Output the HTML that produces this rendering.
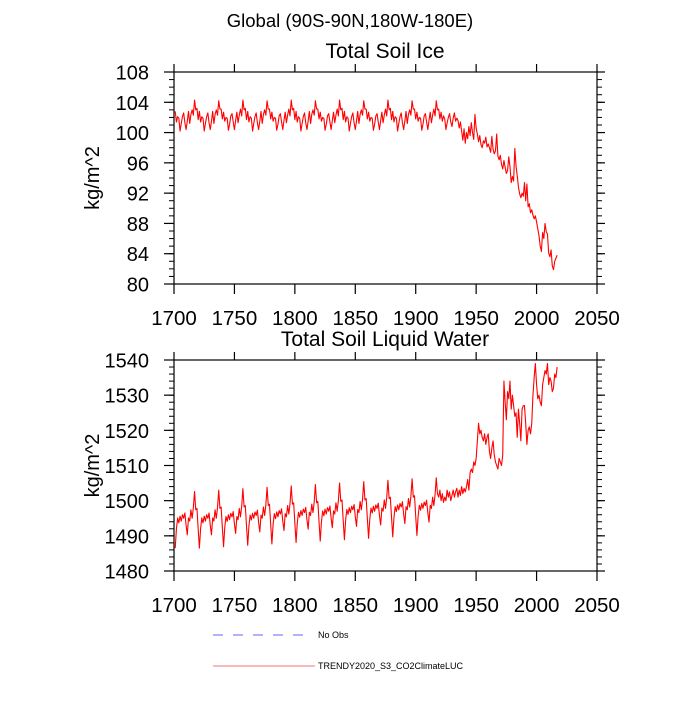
<!DOCTYPE html>
<html><head><meta charset="utf-8"><style>
body{margin:0;background:#fff}
svg text{font-family:"Liberation Sans",Arial,sans-serif}
</style></head><body>
<svg id="chart" width="700" height="700" viewBox="0 0 700 700">
<text x="350" y="27" font-size="18.5" text-anchor="middle">Global (90S-90N,180W-180E)</text>
<g id="legend">
<line x1="213" y1="635" x2="308" y2="635" stroke="#6666ff" stroke-width="1" stroke-dasharray="10,10"/>
<text x="318" y="638" font-size="9">No Obs</text>
<line x1="213" y1="666" x2="315" y2="666" stroke="#ee7777" stroke-width="1"/>
<text x="318" y="669" font-size="9">TRENDY2020_S3_CO2ClimateLUC</text>
</g>
</svg>
<script>
const years = []; for (let y = 1701; y <= 2017; y++) years.push(y);
const iceValues = [
102.8,101.4,102.1,101.9,100.2,101.2,102.1,102.6,101.3,100.4,101.5,102.8,101.2,102.4,103.0,102.3,
104.3,103.0,103.2,101.7,102.8,101.4,102.1,101.9,100.2,101.2,102.1,102.6,101.3,100.4,101.5,102.8,101.2,102.4,103.0,102.3,
104.2,103.1,103.1,101.8,102.7,101.5,102.0,101.9,100.3,101.1,102.2,102.5,101.4,100.4,101.6,102.7,101.3,102.3,103.1,102.2,
104.3,103.0,103.2,101.7,102.8,101.4,102.1,101.9,100.2,101.2,102.1,102.6,101.3,100.4,101.5,102.8,101.2,102.4,103.0,102.3,
104.2,103.1,103.1,101.8,102.7,101.5,102.0,101.9,100.3,101.1,102.2,102.5,101.4,100.4,101.6,102.7,101.3,102.3,103.1,102.2,
104.3,103.0,103.2,101.7,102.8,101.4,102.1,101.9,100.2,101.2,102.1,102.6,101.3,100.4,101.5,102.8,101.2,102.4,103.0,102.3,
104.2,103.1,103.1,101.8,102.7,101.5,102.0,101.9,100.3,101.1,102.2,102.5,101.4,100.4,101.6,102.7,101.3,102.3,103.1,102.2,
104.3,103.0,103.2,101.7,102.8,101.4,102.1,101.9,100.2,101.2,102.1,102.6,101.3,100.4,101.5,102.8,101.2,102.4,103.0,102.3,
104.2,103.1,103.1,101.8,102.7,101.5,102.0,101.9,100.3,101.1,102.2,102.5,101.4,100.4,101.6,102.7,101.3,102.3,103.1,102.2,
104.3,103.0,103.2,101.7,102.8,101.4,102.1,101.9,100.2,101.2,102.1,102.6,101.3,100.4,101.5,102.8,101.2,102.4,103.0,102.3,
104.2,103.1,103.1,101.8,102.7,101.5,102.0,101.9,100.3,101.1,102.2,102.5,101.4,100.4,101.6,102.7,101.3,102.3,103.1,102.2,
104.2,103.0,103.1,101.8,102.7,101.5,102.2,101.8,100.4,101.3,102.0,102.5,101.4,100.8,101.9,102.6,101.5,101.9,101.6,
100.6,101.4,100.2,99.0,100.5,98.6,100.0,99.2,100.8,99.6,101.3,100.0,99.1,102.4,100.6,99.8,98.8,99.6,98.4,98.0,98.9,98.6,99.4,98.1,98.5,
98.0,97.4,99.5,97.8,97.2,97.6,99.8,96.9,96.4,97.0,95.8,95.2,96.3,95.4,94.6,95.0,96.8,95.5,93.4,94.2,93.6,97.9,95.6,94.3,92.8,91.9,91.4,92.0,91.6,93.4,
91.0,93.2,90.2,90.6,89.4,89.8,89.1,88.6,89.0,88.2,87.3,86.4,85.0,84.3,86.8,86.0,88.0,86.9,86.6,84.1,83.6,84.5,82.4,81.9,83.0,83.4,83.8];
const liquidValues = [
1486.5,1492,1495.1,1493.7,1495.6,1494.2,1496,1495,1496.5,1493,1490.3,1495.1,1494.2,1497.4,1495,1498,
1502.6,1497.4,1497.8,1492,1486.5,1492,1495.1,1493.7,1495.6,1494.2,1496,1495,1496.5,1493,1490.3,1495.1,1494.2,1497.4,1495,1498,
1503.0,1497.8,1498.2,1492.4,1486.9,1492.4,1495.5,1494.1,1496.0,1494.6,1496.4,1495.4,1496.9,1493.4,1490.7,1495.5,1494.6,1497.8,1495.4,1498.4,
1503.4,1498.2,1498.6,1492.8,1487.3,1492.8,1495.9,1494.5,1496.4,1495.0,1496.8,1495.8,1497.3,1493.8,1491.1,1495.9,1495.0,1498.2,1495.8,1498.8,
1503.8,1498.6,1499.0,1493.2,1487.7,1493.2,1496.3,1494.9,1496.8,1495.4,1497.2,1496.2,1497.7,1494.2,1491.5,1496.3,1495.4,1498.6,1496.2,1499.2,
1504.2,1499.0,1499.4,1493.6,1488.1,1493.6,1496.7,1495.3,1497.2,1495.8,1497.6,1496.6,1498.1,1494.6,1491.9,1496.7,1495.8,1499.0,1496.6,1499.6,
1504.6,1499.4,1499.8,1494.0,1488.5,1494.0,1497.1,1495.7,1497.6,1496.2,1498.0,1497.0,1498.5,1495.0,1492.3,1497.1,1496.2,1499.4,1497.0,1500.0,
1505.0,1499.8,1500.2,1494.4,1488.9,1494.4,1497.5,1496.1,1498.0,1496.6,1498.4,1497.4,1498.9,1495.4,1492.7,1497.5,1496.6,1499.8,1497.4,1500.4,
1505.4,1500.2,1500.6,1494.8,1489.3,1494.8,1497.9,1496.5,1498.4,1497.0,1498.8,1497.8,1499.3,1495.8,1493.1,1497.9,1497.0,1500.2,1497.8,1500.8,
1505.8,1500.6,1501.0,1495.2,1489.7,1495.2,1498.3,1496.9,1498.8,1497.4,1499.2,1498.2,1499.7,1496.2,1493.5,1498.3,1497.4,1500.6,1498.2,1501.2,
1506.2,1501.0,1501.4,1495.6,1490.1,1495.6,1498.7,1497.3,1499.2,1497.8,1499.6,1498.6,1500.1,1496.6,1493.9,1498.7,1497.8,1501.0,1498.6,1501.6,
1506.5,1502,1501,1503,1500,1502,1499.5,1501,1500,1503,1501,1502.5,1500,1501.5,1503,1501,1502.5,1503.5,1501,1503,1501.5,1504,1502,1503.5,1502.5,1504,1506,1503,1508,
1509,1508,1511,1510,1512,1517,1522,1519,1520,1518,1517,1519,1516,1518,1519,1514,1512,1515,1517,1513,1511,1510,1509,1512,1511,1510,1513,
1534,1528,1523,1531,1529,1534,1526,1530,1527,1524,1525,1518,1526,1522,1517,1526,1527,1527,1522,1516,1520,1521,1519,1522,1530,1535,1539,1533,1529,1530,1528,1527,1533,1535,1537,1536,1539,1533,1535,1534,1531,1532,1536,1535,1538];
const xTicks = [1700,1750,1800,1850,1900,1950,2000,2050];
const iceTicks = [80,84,88,92,96,100,104,108];
const liquidTicks = [1480,1490,1500,1510,1520,1530,1540];

const NS = 'http://www.w3.org/2000/svg';
const svg = document.getElementById('chart');
function mk(tag, attrs, parent){const e=document.createElementNS(NS,tag);for(const k in attrs)e.setAttribute(k,attrs[k]);(parent||svg).appendChild(e);return e;}

function panel(id, top, bottom, ymin, ymax, yticks, minorStep, values, title){
  const L=174,R=597;
  const g=mk('g',{});
  
  
  const xs=v=>L+(v-1700)/350*(R-L);
  const ys=v=>bottom-(v-ymin)/(ymax-ymin)*(bottom-top);
  const t=mk('text',{x:385,y:top-14,'font-size':21,'text-anchor':'middle'},g);
  t.textContent=title;
  
  
  const yt=mk('text',{x:0,y:0,'font-size':20,'text-anchor':'middle',transform:`translate(99,${(top+bottom)/2}) rotate(-90)`},g);
  yt.textContent='kg/m^2';
  
  
  let d='';
  values.forEach((v,i)=>{d+=(i?'L':'M')+xs(years[i]).toFixed(2)+','+ys(v).toFixed(2);});
  const p=mk('path',{d:d,fill:'none',stroke:'#ff0000','stroke-width':1.1,'stroke-linejoin':'round'},g);
  
  
  const f=mk('rect',{x:L,y:top,width:R-L,height:bottom-top,fill:'none',stroke:'#000','stroke-width':1.2},g);
  
  
  xTicks.forEach(v=>{
    const x=xs(v);
    mk('line',{x1:x,y1:bottom,x2:x,y2:bottom+10,stroke:'#000','stroke-width':1.2},g);
    mk('line',{x1:x,y1:top,x2:x,y2:top-8,stroke:'#000','stroke-width':1.2},g);
    const tl=mk('text',{x:x,y:bottom+41,'font-size':20.5,'text-anchor':'middle'},g);
    tl.textContent=v;
    
    
  });
  for(let v=ymin;v<=ymax+1e-9;v+=minorStep){
    const y=ys(v);
    mk('line',{x1:L,y1:y,x2:L-5,y2:y,stroke:'#000','stroke-width':1},g);
    mk('line',{x1:R,y1:y,x2:R+5,y2:y,stroke:'#000','stroke-width':1},g);
  }
  yticks.forEach(v=>{
    const y=ys(v);
    mk('line',{x1:L,y1:y,x2:L-10,y2:y,stroke:'#000','stroke-width':1.2},g);
    mk('line',{x1:R,y1:y,x2:R+8,y2:y,stroke:'#000','stroke-width':1.2},g);
    const tl=mk('text',{x:L-25,y:y+7.5,'font-size':20,'text-anchor':'end'},g);
    tl.textContent=v;
    
    
  });
}
panel('soil-ice',72,284,80,108,iceTicks,1,iceValues,'Total Soil Ice');
panel('soil-liquid',360,571,1480,1540,liquidTicks,2,liquidValues,'Total Soil Liquid Water');
</script>
</body></html>
